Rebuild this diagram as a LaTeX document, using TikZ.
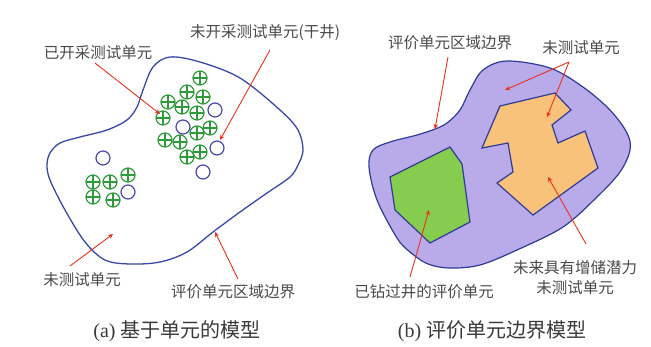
\documentclass[tikz,border=0pt]{standalone}
\usepackage{fontspec}
\setmainfont{Liberation Serif}
\newfontfamily\cjk{Noto Sans CJK SC}
\usetikzlibrary{arrows.meta}
\definecolor{txt}{HTML}{4A4A4A}
\definecolor{cap}{HTML}{3A3A3A}
\definecolor{bline}{HTML}{3A48A8}
\definecolor{gcirc}{HTML}{2E9A3A}
\definecolor{bcirc}{HTML}{4A48B0}
\definecolor{arrred}{HTML}{E8321E}
\definecolor{lav}{HTML}{B9AAEA}
\definecolor{lavline}{HTML}{2E3C96}
\definecolor{gfill}{HTML}{86CC4E}
\definecolor{ofill}{HTML}{F9C27A}
\tikzset{
  lbl/.style={text=txt, font=\cjk\fontsize{15.5}{20}\selectfont, inner sep=1pt, align=center},
  captxt/.style={text=cap, font=\fontsize{20}{24}\selectfont, inner sep=1pt},
  arr/.style={draw=arrred, line width=0.9pt, -{Stealth[length=5pt,width=4.5pt]}},
  plusc/.style={draw=gcirc, line width=1.2pt},
  openc/.style={draw=bcirc, line width=1.2pt},
}
\begin{document}
\begin{tikzpicture}[x=1pt,y=-1pt]
\useasboundingbox[fill=white] (0,0) rectangle (651,346);

% ---------- (a) ----------
\draw[bline, line width=1.3pt] plot[smooth cycle, tension=0.55] coordinates {
 (170,57) (200,62) (240,78) (280,110) (298,130) (303,150) (298,165) (290,177)
 (267,193) (240,212) (213,232) (187,252) (160,262) (130,264) (105,260) (85,242)
 (65,210) (50,180) (47,165) (50,153) (60,143) (80,137) (107,130) (127,120)
 (137,107) (143,90) (153,67)};

\foreach \x/\y in {200/78,187/92,203/97,168/102,182/107,197/113,163/118,210/128,
  197/133,165/140,180/142,187/157,200/152,93/182,110/182,128/175,93/197,113/200}{
  \draw[plusc] (\x,\y) circle (7);
  \draw[plusc] (\x-7,\y) -- (\x+7,\y) (\x,\y-7) -- (\x,\y+7);
}
\foreach \x/\y in {215/110,183/127,217/148,203/172,103/158,128/192}{
  \draw[openc] (\x,\y) circle (7);
}

\node[lbl] (la1) at (98,53) {已开采测试单元};
\node[lbl] (la2) at (265,33) {未开采测试单元(干井)};
\node[lbl] (la3) at (82,280) {未测试单元};
\node[lbl] (la4) at (233,292) {评价单元区域边界};
\node[captxt] (capa) at (177,331) {(a) {\cjk 基于单元的模型}};

\coordinate (ta1) at (95,63);   \coordinate (ha1) at (160,114);
\coordinate (ta2) at (270,50);  \coordinate (ha2) at (220,140);
\coordinate (ta3) at (70,266);  \coordinate (ha3) at (113,234);
\coordinate (ta4) at (238,279); \coordinate (ha4) at (215,232);
\draw[arr] (ta1) -- (ha1);
\draw[arr] (ta2) -- (ha2);
\draw[arr] (ta3) -- (ha3);
\draw[arr] (ta4) -- (ha4);

% ---------- (b) ----------
\draw[lavline, fill=lav, line width=1.2pt] plot[smooth cycle, tension=0.55] coordinates {
 (507,61) (550,68) (583,87) (610,110) (627,133) (630,150) (620,172) (597,197)
 (563,227) (517,250) (480,265) (450,268) (428,264) (410,252) (397,238) (377,200)
 (369,167) (373,150) (390,142) (417,135) (435,129) (447,123) (460,110) (470,90)
 (483,70)};

\draw[lavline, fill=gfill, line width=1.2pt]
  (390,177) -- (450,147) -- (462,164) -- (470,222) -- (430,243) -- (395,210) -- cycle;
\draw[lavline, fill=ofill, line width=1.2pt]
  (500,106) -- (555,93) -- (571,110) -- (552,125) -- (558,143) -- (585,131)
  -- (598,168) -- (533,215) -- (497,183) -- (513,172) -- (508,143) -- (482,148) -- cycle;

\node[lbl] (lb1) at (450,43) {评价单元区域边界};
\node[lbl] (lb2) at (581,48) {未测试单元};
\node[lbl] (lb3) at (424,292) {已钻过井的评价单元};
\node[lbl] (lb4) at (575,278) {未来具有增储潜力\\未测试单元};
\node[captxt] (capb) at (492,331) {(b) {\cjk 评价单元边界模型}};

\coordinate (tb1) at (448,57);  \coordinate (hb1) at (435,129);
\coordinate (tb2) at (569,62);  \coordinate (hb2a) at (505,90); \coordinate (hb2b) at (547,117);
\coordinate (tb3) at (410,277); \coordinate (hb3) at (429,210);
\coordinate (tb4) at (586,244); \coordinate (hb4) at (548,177);
\draw[arr] (tb1) -- (hb1);
\draw[arr] (tb2) -- (hb2a);
\draw[arr] (tb2) -- (hb2b);
\draw[arr] (tb3) -- (hb3);
\draw[arr] (tb4) -- (hb4);
\end{tikzpicture}
\end{document}
